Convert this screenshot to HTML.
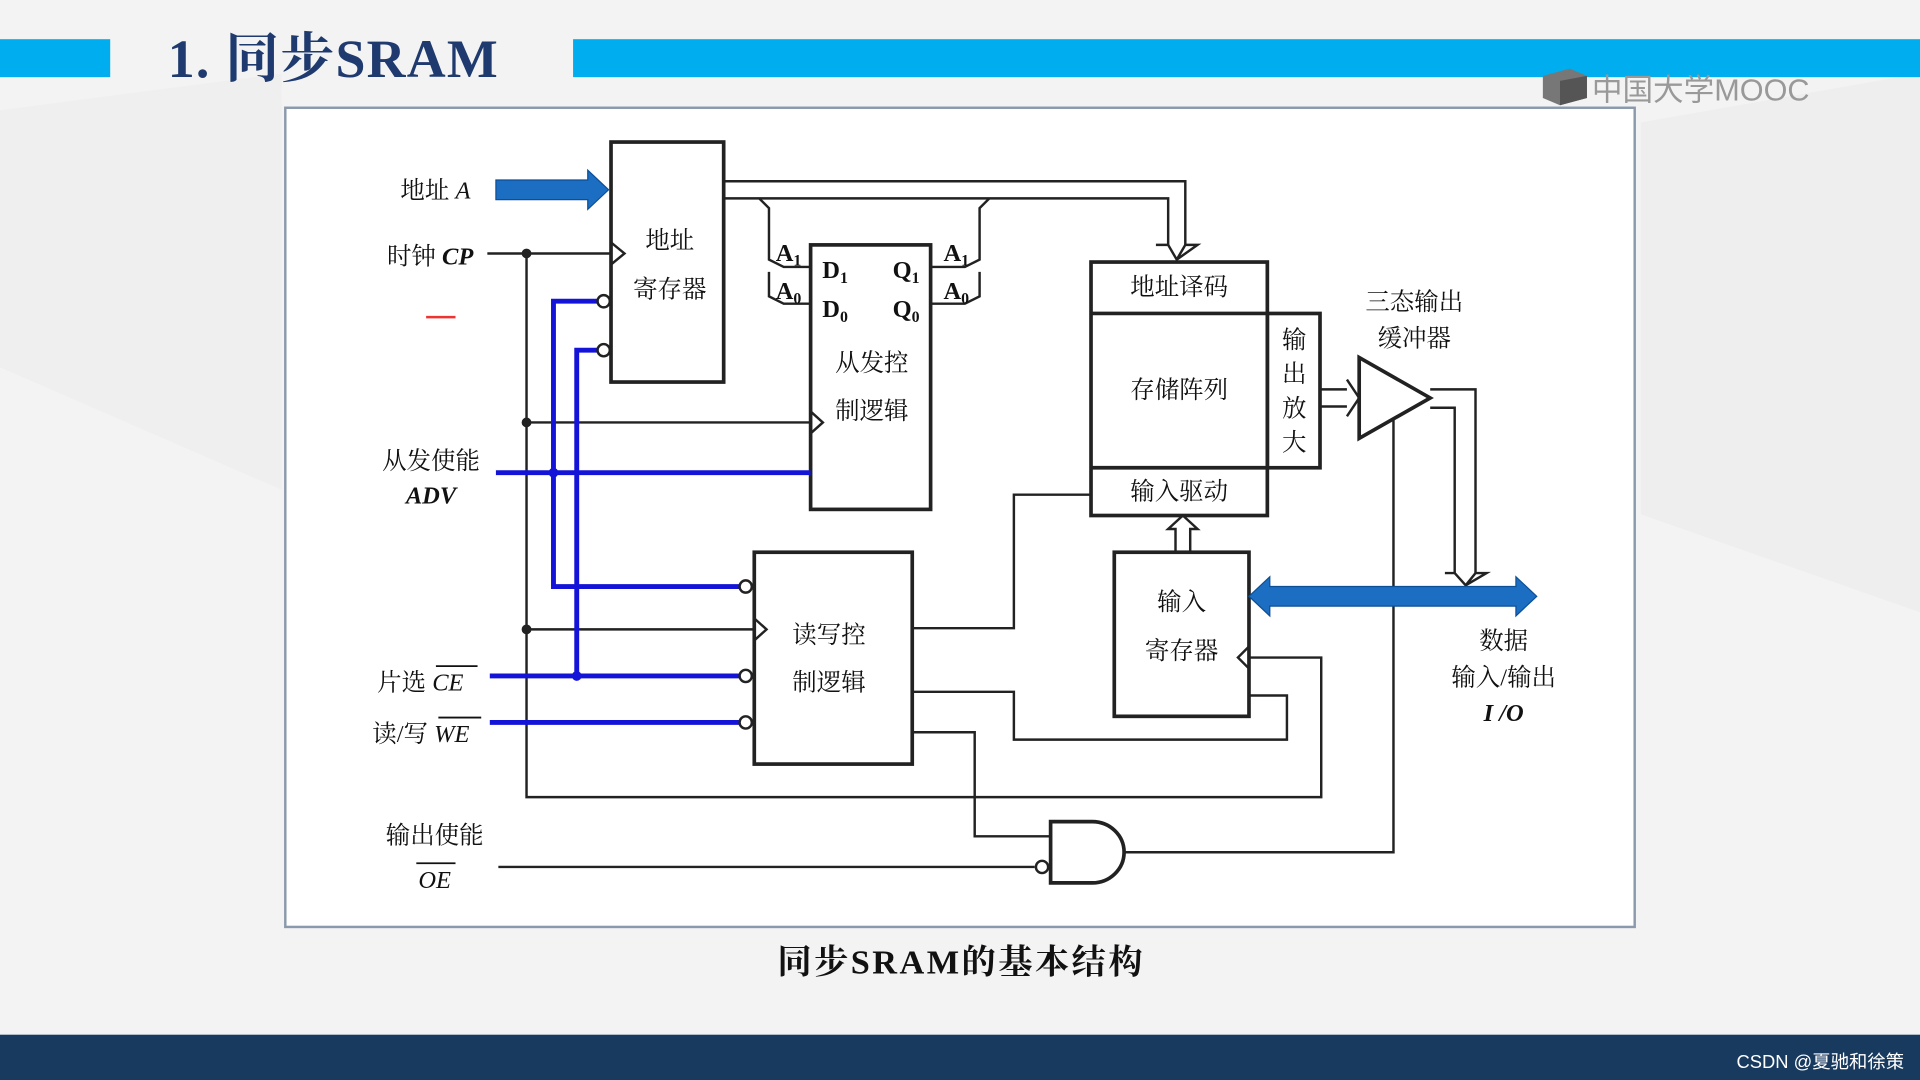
<!DOCTYPE html>
<html><head><meta charset="utf-8"><style>
html,body{margin:0;padding:0;width:1920px;height:1080px;overflow:hidden;background:#f3f3f3}
svg{display:block}
text{font-family:"Liberation Serif","Noto Serif CJK SC",serif;fill:#111}
</style></head><body>
<svg width="1920" height="1080" viewBox="0 0 1568 882" xmlns="http://www.w3.org/2000/svg">
<rect width="1568" height="882" fill="#f3f3f3"/>
<polygon points="0,90 230,60 230,400 0,300" fill="#efefef"/>
<polygon points="1340,100 1568,60 1568,500 1340,420" fill="#eeeeee"/>
<rect x="0" y="32" width="90" height="31" fill="#00aeef"/>
<rect x="468" y="32" width="1100" height="31" fill="#00aeef"/>
<text x="137" y="63" font-size="44" font-weight="bold" letter-spacing="1" style="fill:#1f3a6e">1. 同步SRAM</text>
<g>
<polygon points="1260,62 1282,56 1296,62 1296,80 1274,86 1260,80" fill="#777"/>
<polygon points="1274,66 1296,62 1296,80 1274,86" fill="#555"/>
<text x="1300" y="82" font-size="25" style="fill:#999;font-family:'Liberation Sans','Noto Sans CJK SC',sans-serif">中国大学MOOC</text>
</g>
<rect x="233" y="88" width="1102" height="669" fill="#fff" stroke="#8a9aac" stroke-width="2"/>
<g fill="none" stroke="#222" stroke-width="2">
<rect x="499" y="116" width="92" height="196" stroke-width="3"/>
<rect x="662" y="200" width="98" height="216" stroke-width="3"/>
<rect x="891" y="214" width="144" height="207" stroke-width="3"/>
<line x1="891" y1="256" x2="1035" y2="256" stroke-width="3"/>
<line x1="891" y1="382" x2="1035" y2="382" stroke-width="3"/>
<rect x="1035" y="256" width="43" height="126" stroke-width="3"/>
<rect x="910" y="451" width="110" height="134" stroke-width="3"/>
<rect x="616" y="451" width="129" height="173" stroke-width="3"/>
<polyline points="499,198 510,207 499,216"/>
<polyline points="662,336 672,345 662,354"/>
<polyline points="616,505 626,514 616,523"/>
<polyline points="1020,528 1011,537 1020,546"/>
<line x1="398" y1="207" x2="499" y2="207"/>
<polyline points="430,207 430,651 1079,651 1079,537 1020,537"/>
<line x1="430" y1="345" x2="662" y2="345"/>
<line x1="430" y1="514" x2="616" y2="514"/>
<polyline points="591,148 968,148 968,200"/>
<polyline points="591,162 954,162 954,200"/>
<polyline points="944,200 954,200 954,200 961,212 968,200 978,200 961,212"/>
<polyline points="620,162 628,170 628,212 640,218 662,218"/>
<polyline points="628,222 628,242 640,248 662,248"/>
<polyline points="808,162 800,170 800,212 788,218 760,218"/>
<polyline points="800,222 800,242 788,248 760,248"/>
<polyline points="1078,318 1100,318"/>
<polyline points="1078,332 1100,332"/>
<polyline points="1100,310 1110,325 1100,340"/>
<polygon points="1110,292 1110,358 1168,325" stroke-width="3"/>
<polyline points="1168,318 1205,318 1205,468"/>
<polyline points="1168,333 1188,333 1188,468"/>
<polyline points="1180,468 1188,468 1197,478 1205,468 1214,468 1197,478"/>
<polyline points="918,696 1138,696 1138,342"/>
<polyline points="960,451 960,432 954,432 966,421 978,432 972,432 972,451"/>
<polyline points="745,513 828,513 828,404 891,404"/>
<polyline points="745,565 828,565 828,604 1051,604 1051,568 1020,568"/>
<polyline points="745,598 796,598 796,683 858,683"/>
<path d="M858,671 L892,671 A26,25 0 0 1 892,721 L858,721 Z" stroke-width="3"/>
<line x1="407" y1="708" x2="845" y2="708"/>
<circle cx="851" cy="708" r="5" fill="#fff"/>
</g>
<g fill="none" stroke="#1414d8" stroke-width="4">
<polyline points="488,246 452,246 452,479 604,479"/>
<polyline points="488,286 471,286 471,552"/>
<line x1="405" y1="386" x2="662" y2="386"/>
<line x1="400" y1="552" x2="604" y2="552"/>
<line x1="400" y1="590" x2="604" y2="590"/>
</g>
<g fill="#222"><circle cx="430" cy="207" r="4"/><circle cx="430" cy="345" r="4"/><circle cx="430" cy="514" r="4"/><circle cx="452" cy="386" r="4" fill="#1414d8"/><circle cx="471" cy="552" r="4" fill="#1414d8"/></g>
<g fill="#fff" stroke="#222" stroke-width="2">
<circle cx="493" cy="246" r="5"/><circle cx="493" cy="286" r="5"/>
<circle cx="609" cy="479" r="5"/><circle cx="609" cy="552" r="5"/><circle cx="609" cy="590" r="5"/>
</g>
<polygon points="405,147 480,147 480,139 497,155 480,171 480,163 405,163" fill="#1b6ec2" stroke="#0d4f96"/>
<polygon points="1020,487 1037,471 1037,479 1238,479 1238,471 1255,487 1238,503 1238,495 1037,495 1037,503" fill="#1b6ec2" stroke="#0d4f96"/>
<line x1="348" y1="259" x2="372" y2="259" stroke="#e33" stroke-width="2"/>
<g font-size="20">
<text x="327" y="162">地址 <tspan font-style="italic">A</tspan></text>
<text x="316" y="216">时钟 <tspan font-style="italic" font-weight="bold">CP</tspan></text>
<text x="352" y="383" text-anchor="middle">从发使能</text>
<text x="352" y="411" text-anchor="middle" font-style="italic" font-weight="bold">ADV</text>
<text x="308" y="564">片选 <tspan font-style="italic">CE</tspan></text>
<line x1="356" y1="544" x2="390" y2="544" stroke="#111" stroke-width="1.5"/>
<text x="304" y="606">读/写 <tspan font-style="italic">WE</tspan></text>
<line x1="358" y1="586" x2="393" y2="586" stroke="#111" stroke-width="1.5"/>
<text x="355" y="689" text-anchor="middle">输出使能</text>
<text x="355" y="725" text-anchor="middle" font-style="italic">OE</text>
<line x1="340" y1="705" x2="372" y2="705" stroke="#111" stroke-width="1.5"/>
<text x="547" y="203" text-anchor="middle">地址</text>
<text x="547" y="243" text-anchor="middle">寄存器</text>
<text x="682" y="227" text-anchor="middle" font-weight="bold">D<tspan font-size="13" dy="4">1</tspan></text>
<text x="740" y="227" text-anchor="middle" font-weight="bold">Q<tspan font-size="13" dy="4">1</tspan></text>
<text x="682" y="259" text-anchor="middle" font-weight="bold">D<tspan font-size="13" dy="4">0</tspan></text>
<text x="740" y="259" text-anchor="middle" font-weight="bold">Q<tspan font-size="13" dy="4">0</tspan></text>
<text x="644" y="213" text-anchor="middle" font-weight="bold">A<tspan font-size="13" dy="4">1</tspan></text>
<text x="644" y="244" text-anchor="middle" font-weight="bold">A<tspan font-size="13" dy="4">0</tspan></text>
<text x="781" y="213" text-anchor="middle" font-weight="bold">A<tspan font-size="13" dy="4">1</tspan></text>
<text x="781" y="244" text-anchor="middle" font-weight="bold">A<tspan font-size="13" dy="4">0</tspan></text>
<text x="712" y="303" text-anchor="middle">从发控</text>
<text x="712" y="342" text-anchor="middle">制逻辑</text>
<text x="963" y="241" text-anchor="middle">地址译码</text>
<text x="963" y="325" text-anchor="middle">存储阵列</text>
<text x="963" y="408" text-anchor="middle">输入驱动</text>
<text x="1057" y="284" text-anchor="middle">输</text>
<text x="1057" y="312" text-anchor="middle">出</text>
<text x="1057" y="340" text-anchor="middle">放</text>
<text x="1057" y="368" text-anchor="middle">大</text>
<text x="1155" y="253" text-anchor="middle">三态输出</text>
<text x="1155" y="283" text-anchor="middle">缓冲器</text>
<text x="965" y="498" text-anchor="middle">输入</text>
<text x="965" y="538" text-anchor="middle">寄存器</text>
<text x="677" y="525" text-anchor="middle">读写控</text>
<text x="677" y="564" text-anchor="middle">制逻辑</text>
<text x="1228" y="530" text-anchor="middle">数据</text>
<text x="1228" y="560" text-anchor="middle">输入/输出</text>
<text x="1228" y="589" text-anchor="middle" font-style="italic" font-weight="bold">I /O</text>
</g>
<text x="785" y="795" text-anchor="middle" font-size="28" font-weight="bold" letter-spacing="2">同步SRAM的基本结构</text>
<rect x="0" y="845" width="1568" height="37" fill="#183a5e"/>
<text x="1555" y="872" text-anchor="end" font-size="15" style="fill:#fff;font-family:'Liberation Sans','Noto Sans CJK SC',sans-serif">CSDN @夏驰和徐策</text>
</svg>
</body></html>
